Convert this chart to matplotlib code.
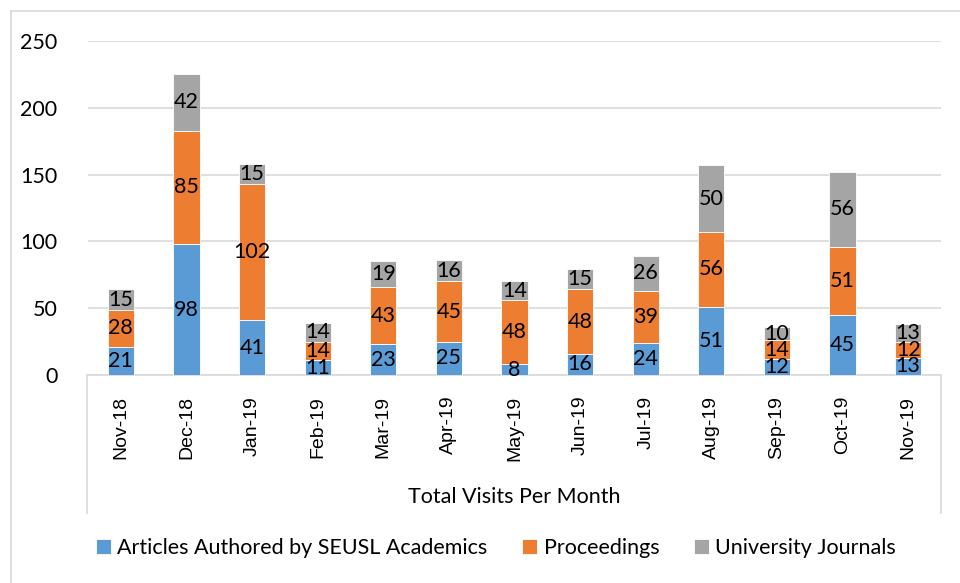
import numpy as np
import matplotlib.pyplot as plt
from matplotlib.lines import Line2D

months = ["Nov-18", "Dec-18", "Jan-19", "Feb-19", "Mar-19", "Apr-19", "May-19",
          "Jun-19", "Jul-19", "Aug-19", "Sep-19", "Oct-19", "Nov-19"]
articles = [21, 98, 41, 11, 23, 25, 8, 16, 24, 51, 12, 45, 13]
proceedings = [28, 85, 102, 14, 43, 45, 48, 48, 39, 56, 14, 51, 12]
journals = [15, 42, 15, 14, 19, 16, 14, 15, 26, 50, 10, 56, 13]

series_names = ["Articles Authored by SEUSL Academics", "Proceedings", "University Journals"]
colors = ["#5B9BD5", "#ED7D31", "#A5A5A5"]

plt.rcParams['font.family'] = ['Lato', 'DejaVu Sans']

fig = plt.figure(figsize=(9.6, 5.83), dpi=100)
ax = fig.add_axes([88 / 960, 1 - 375 / 583, 853 / 960, 334 / 583])

x = np.arange(len(months))
bottom = np.zeros(len(months))
for name, vals, col in zip(series_names, [articles, proceedings, journals], colors):
    bars = ax.bar(x, vals, 0.4, bottom=bottom, color=col, label=name,
                  edgecolor="white", linewidth=0.6, zorder=3)
    for b, v in zip(bars, vals):
        ax.text(b.get_x() + b.get_width() / 2, b.get_y() + v / 2, str(v),
                ha="center", va="center", fontsize=15.5, color="black", zorder=4)
    bottom += np.array(vals)

ax.set_xlim(-0.5, len(months) - 0.5)
ax.set_ylim(0, 250)
ax.set_yticks(range(0, 251, 50))
ax.yaxis.grid(True, color="#D9D9D9", linewidth=1.2, zorder=0)
for s in ["top", "right", "left"]:
    ax.spines[s].set_visible(False)
ax.spines["bottom"].set_color("#D9D9D9")
ax.spines["bottom"].set_linewidth(1.2)
ax.tick_params(axis="y", length=0, labelsize=15.5, pad=22)
ax.tick_params(axis="x", length=0, labelsize=14, pad=15)
ax.set_xticks(x)
ax.set_xticklabels(months, rotation=90, family=["Liberation Sans", "DejaVu Sans"])

# category axis box lines
for xp in [87 / 960, 941 / 960]:
    fig.add_artist(Line2D([xp, xp], [1 - 375 / 583, 1 - 513 / 583],
                          color="#D9D9D9", linewidth=1.2))
# outer chart border
fig.add_artist(Line2D([10.5 / 960, 10.5 / 960], [0, 1 - 11 / 583], color="#D9D9D9", linewidth=1.2))
fig.add_artist(Line2D([10.5 / 960, 1], [1 - 11 / 583, 1 - 11 / 583], color="#D9D9D9", linewidth=1.2))

fig.text(514 / 960, 1 - 497 / 583, "Total Visits Per Month", ha="center", va="center",
         fontsize=15.5)

fig.legend(loc="center", bbox_to_anchor=(496 / 960, 1 - 548 / 583), ncol=3,
           frameon=False, fontsize=15.5, handlelength=0.7, handleheight=0.7,
           handletextpad=0.3, columnspacing=1.6)

fig.savefig("out.png", dpi=100)
